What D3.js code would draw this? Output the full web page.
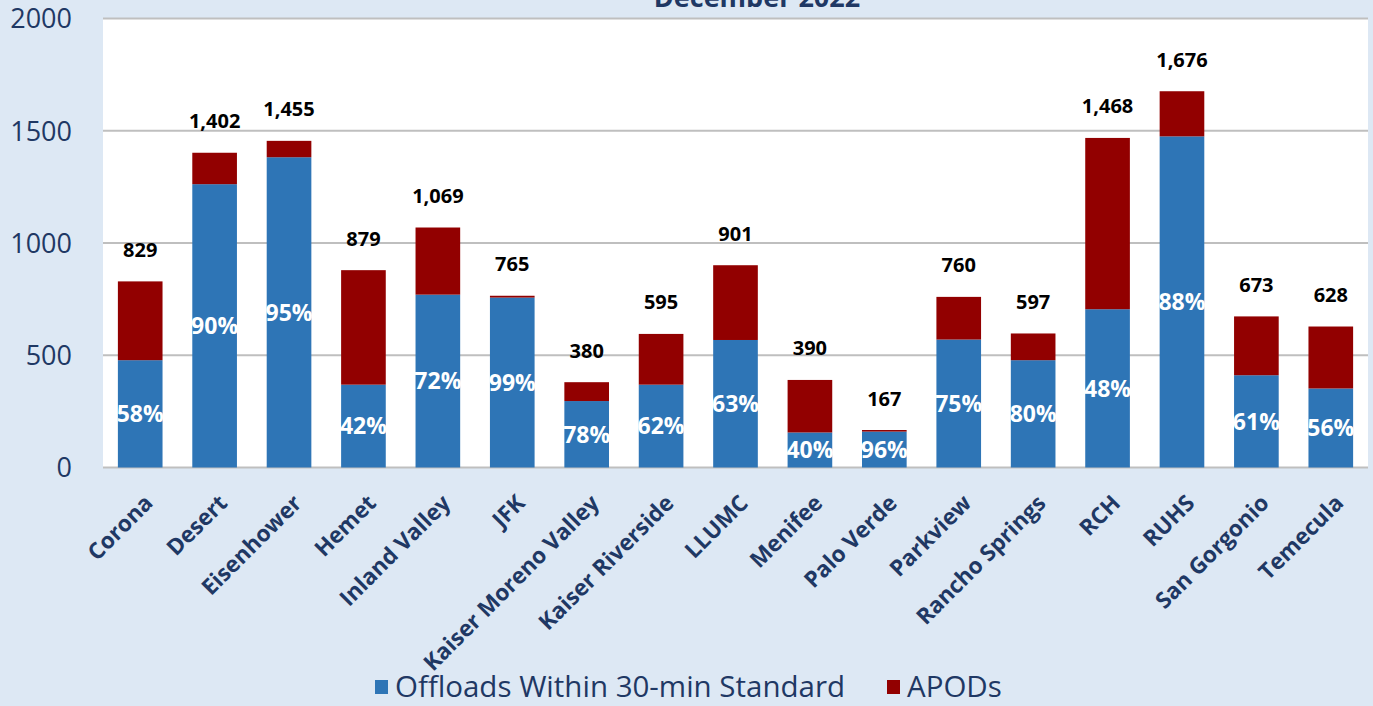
<!DOCTYPE html>
<html><head><meta charset="utf-8">
<script src="https://cdn.jsdelivr.net/npm/d3@7"></script>
<style>body{margin:0;background:#dde8f4;}svg{display:block;}</style>
</head><body><svg id="c" width="1373" height="706"></svg>
<script>
const categories = ["Corona","Desert","Eisenhower","Hemet","Inland Valley","JFK","Kaiser Moreno Valley","Kaiser Riverside","LLUMC","Menifee","Palo Verde","Parkview","Rancho Springs","RCH","RUHS","San Gorgonio","Temecula"];
const offloads = [478,1262,1382,369,770,757,296,369,568,156,160,570,478,705,1475,411,352];
const apods    = [351,140,73,510,299,8,84,226,333,234,7,190,119,763,201,262,276];
const totals   = [829,1402,1455,879,1069,765,380,595,901,390,167,760,597,1468,1676,673,628];
const pctLabels = ["58%","90%","95%","42%","72%","99%","78%","62%","63%","40%","96%","75%","80%","48%","88%","61%","56%"];
const yTicks = [0,500,1000,1500,2000];
const seriesNames = ["Offloads Within 30-min Standard","APODs"];
const colors = ["#2e75b6","#920000"];
const navy = "#1f3864";
const font = "'Open Sans', sans-serif";

const svg = d3.select("#c");
const L=103, R=1368, T=18.5, B=467.5;
const x = d3.scaleBand().domain(categories).range([L,R]).paddingInner(0.4).paddingOuter(0.2);
const y = d3.scaleLinear().domain([0,2000]).range([B,T]);

svg.append("rect").attr("width",1373).attr("height",706).attr("fill","#dde8f4");
svg.append("rect").attr("x",L).attr("y",T).attr("width",R-L).attr("height",B-T).attr("fill","#fff");

// gridlines
svg.append("g").selectAll("line").data(yTicks).join("line")
  .attr("x1",L).attr("x2",R).attr("y1",d=>y(d)).attr("y2",d=>y(d))
  .attr("stroke","#bfbfbf").attr("stroke-width",2);

// y axis
const ya = svg.append("g").attr("transform",`translate(${L},0)`)
  .call(d3.axisLeft(y).tickValues(yTicks).tickSize(0).tickPadding(31).tickFormat(d3.format("d")));
ya.select(".domain").remove();
ya.selectAll("text").attr("font-family",font).attr("font-size",27).attr("fill",navy).attr("dy","0.35em");

// stacked data
const rows = categories.map((c,i)=>({cat:c, off:offloads[i], apod:apods[i]}));
const stack = d3.stack().keys(["off","apod"])(rows);
svg.append("g").selectAll("g").data(stack).join("g").attr("fill",(d,i)=>colors[i])
  .selectAll("rect").data(d=>d).join("rect")
  .attr("x",d=>x(d.data.cat)).attr("width",x.bandwidth())
  .attr("y",d=>y(d[1])).attr("height",d=>y(d[0])-y(d[1]));

// pct labels
svg.append("g").selectAll("text").data(rows).join("text")
  .attr("x",d=>x(d.cat)+x.bandwidth()/2).attr("y",d=>(y(0)+y(d.off))/2)
  .attr("dy","0.36em").attr("text-anchor","middle")
  .attr("font-family",font).attr("font-weight","bold").attr("font-size",23).attr("fill","#fff")
  .text((d,i)=>pctLabels[i]);

// totals
svg.append("g").selectAll("text").data(rows).join("text")
  .attr("x",d=>x(d.cat)+x.bandwidth()/2).attr("y",(d,i)=>y(totals[i])-24.5)
  .attr("text-anchor","middle")
  .attr("font-family",font).attr("font-weight","bold").attr("font-size",20).attr("fill","#000")
  .text((d,i)=>d3.format(",")(totals[i]));

// x axis
const xa = svg.append("g").attr("transform",`translate(0,${B})`)
  .call(d3.axisBottom(x).tickSize(0).tickPadding(0));
xa.select(".domain").remove();
xa.selectAll("text")
  .attr("font-family",font).attr("font-weight","bold").attr("font-size",22.5).attr("fill",navy)
  .attr("text-anchor","end").attr("dy",0).attr("y",0)
  .attr("transform","translate(14,37) rotate(-45)");

// title
svg.append("text").attr("x",757).attr("y",7).attr("text-anchor","middle")
  .attr("font-family",font).attr("font-weight","bold").attr("font-size",27).attr("fill",navy)
  .text("December 2022");

// legend
const lg = svg.append("g");
const lx = [375, 887];
seriesNames.forEach((n,i)=>{
  lg.append("rect").attr("x",lx[i]).attr("y",680).attr("width",13).attr("height",14).attr("fill",colors[i]);
  lg.append("text").attr("x",lx[i]+20).attr("y",697).attr("font-family",font).attr("font-size",29.5).attr("fill",navy).text(n);
});
</script></body></html>
